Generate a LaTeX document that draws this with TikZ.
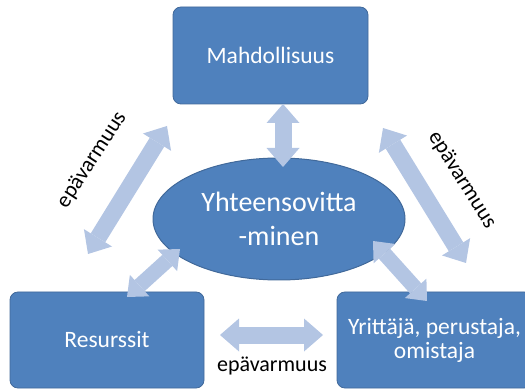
\documentclass[tikz,border=0pt]{standalone}
\usepackage{fontspec}
\setmainfont{Carlito}
\usetikzlibrary{arrows.meta,shapes.geometric}

\definecolor{boxblue}{HTML}{4F81BD}
\definecolor{boxedge}{HTML}{41699A}
\definecolor{arrowblue}{HTML}{B3C5E3}

\tikzset{
  box/.style={draw=boxedge, line width=0.8pt, fill=boxblue, rounded corners=8pt,
              text=white, align=center, inner sep=0pt,
              font=\fontsize{23.5}{24}\selectfont},
  oval/.style={ellipse, draw=boxedge, line width=1pt, fill=boxblue, text=white,
               align=center, inner sep=0pt,
               font=\fontsize{28}{34}\selectfont},
  bigtwin/.style={draw=arrowblue, line width=17pt,
    {Triangle[length=19pt,width=33pt,line width=0pt]}-{Triangle[length=19pt,width=33pt,line width=0pt]}},
  smalltwin/.style={draw=arrowblue, line width=15pt,
    {Triangle[length=17pt,width=29pt,line width=0pt]}-{Triangle[length=17pt,width=29pt,line width=0pt]}},
  unsure/.style={text=black, inner sep=0pt, font=\fontsize{22}{26}\selectfont}
}

\begin{document}
\begin{tikzpicture}[x=1pt,y=-1pt]
  \useasboundingbox (0,0) rectangle (525,390);
  \clip (0,0) rectangle (525,390);

  % the four concepts
  \node[box, minimum width=195pt, minimum height=97pt] (mahd) at (270.5,55.5) {Mahdollisuus};
  \node[box, minimum width=194pt, minimum height=96pt] (res) at (107,340) {Resurssit};
  \node[box, minimum width=195pt, minimum height=96pt] (yrit) at (434.5,340) {Yrittäjä, perustaja,\\omistaja};
  \node[oval, minimum width=252pt, minimum height=122pt] (yht) at (279,219) {Yhteensovitta\\-minen};

  % arrow end points
  \coordinate (mahdS) at (283,104);
  \coordinate (yhtN)  at (283,167);
  \coordinate (mahdW) at (167,126);
  \coordinate (resN)  at (88,254);
  \coordinate (mahdE) at (383,128);
  \coordinate (yritN) at (466,263);
  \coordinate (yhtSW) at (180,249);
  \coordinate (resNE) at (127,297);
  \coordinate (yhtSE) at (373,241);
  \coordinate (yritNW) at (427,301);
  \coordinate (resE)  at (220,335);
  \coordinate (yritW) at (323,335);

  % double-headed arrows
  \draw[bigtwin] (mahdS) -- (yhtN);
  \draw[bigtwin] (mahdW) -- (resN);
  \draw[bigtwin] (mahdE) -- (yritN);
  \draw[smalltwin] (yhtSW) -- (resNE);
  \draw[smalltwin] (yhtSE) -- (yritNW);
  \draw[bigtwin] (resE) -- (yritW);

  % uncertainty labels
  \node[unsure, rotate=57]  (uleft)  at (92,160)  {epävarmuus};
  \node[unsure, rotate=-58] (uright) at (462,180) {epävarmuus};
  \node[unsure]             (ubottom) at (272,366) {epävarmuus};
\end{tikzpicture}
\end{document}
